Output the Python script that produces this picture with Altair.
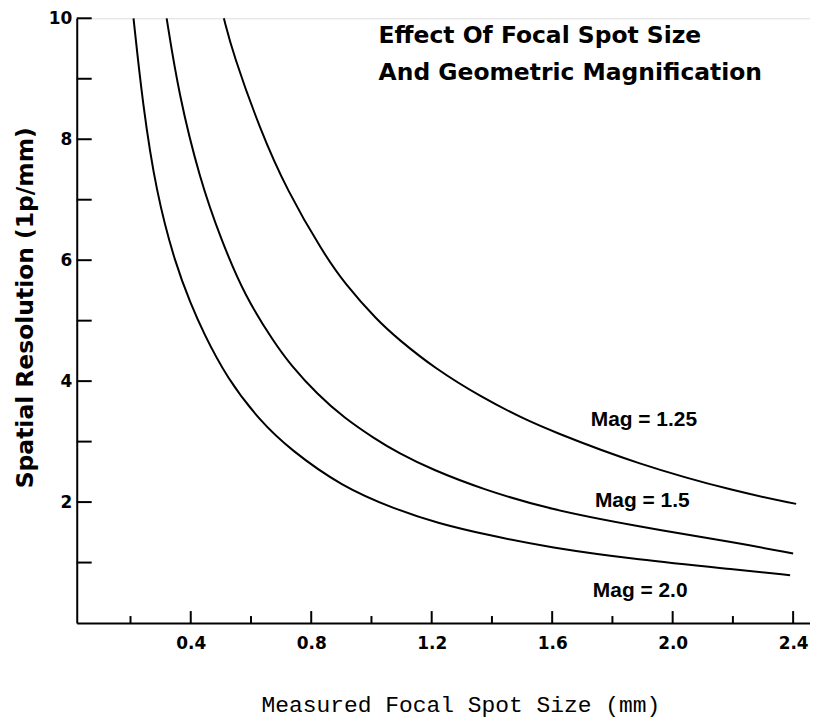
import altair as alt
import pandas as pd

# ---- data ----
mag2_x = [0.21, 0.24, 0.285, 0.35, 0.40, 0.44, 0.52, 0.63, 0.73, 0.90, 1.08, 1.22, 1.39, 1.59, 1.88, 2.22, 2.39]
mag2_y = [10.0, 8.60, 7.12, 5.92, 5.28, 4.82, 4.05, 3.34, 2.87, 2.26, 1.88, 1.65, 1.45, 1.25, 1.05, 0.88, 0.79]

mag15_x = [0.32, 0.36, 0.43, 0.50, 0.58, 0.68, 0.73, 0.82, 0.91, 1.01, 1.09, 1.20, 1.37, 1.59, 1.88, 2.22, 2.40]
mag15_y = [10.0, 8.75, 7.34, 6.35, 5.40, 4.62, 4.28, 3.78, 3.39, 3.05, 2.81, 2.54, 2.21, 1.88, 1.60, 1.32, 1.15]

mag125_x = [0.51, 0.54, 0.63, 0.72, 0.84, 0.91, 1.02, 1.09, 1.21, 1.37, 1.50, 1.59, 1.88, 2.22, 2.41]
mag125_y = [10.0, 9.42, 8.16, 7.15, 6.12, 5.62, 5.00, 4.69, 4.21, 3.72, 3.39, 3.19, 2.63, 2.16, 1.97]

series_names = ["Mag = 2.0", "Mag = 1.5", "Mag = 1.25"]

label_text = ["Mag = 1.25", "Mag = 1.5", "Mag = 2.0"]
label_x = [1.728, 1.742, 1.735]
label_y = [3.36, 2.01, 0.53]

x_major_ticks = [0.4, 0.8, 1.2, 1.6, 2.0, 2.4]
x_minor_ticks = [0.2, 0.6, 1.0, 1.4, 1.8, 2.2]
y_ticks = [1, 2, 3, 4, 5, 6, 7, 8, 9, 10]
y_label_ticks = [2, 4, 6, 8, 10]

title_lines = ["Effect Of Focal Spot Size", "And Geometric Magnification"]
x_title = "Measured Focal Spot Size (mm)"
y_title = "Spatial Resolution (1p/mm)"

# ---- build tables ----
rows = []
for name, xs, ys in zip(series_names, [mag2_x, mag15_x, mag125_x], [mag2_y, mag15_y, mag125_y]):
    for i, (a, b) in enumerate(zip(xs, ys)):
        rows.append({"series": name, "order": i, "x": a, "y": b})
curves = pd.DataFrame(rows)
labels = pd.DataFrame({"x": label_x, "y": label_y, "t": label_text})

W, H = 736, 607
xscale = alt.Scale(domain=[0.0215, 2.456], nice=False, zero=False)
yscale = alt.Scale(domain=[0, 10], nice=False)

BOLD = "DejaVu Sans"

xaxis = alt.Axis(
    values=x_major_ticks, format=".1f", ticks=False, grid=False,
    domainColor="black", domainWidth=2, labelFont=BOLD, labelFontWeight="bold",
    labelFontSize=17, labelColor="black", labelPadding=13,
    title=x_title, titleFont="Liberation Mono", titleFontWeight="normal",
    titleFontSize=23, titleColor="black", titleX=385, titleY=82,
    titleAlign="center", titleBaseline="middle", labelFlush=False,
)
yaxis = alt.Axis(
    values=y_label_ticks, format="d", ticks=False, grid=False,
    domainColor="black", domainWidth=2, labelFont=BOLD, labelFontWeight="bold",
    labelFontSize=17, labelColor="black", labelPadding=5,
    title=y_title, titleFont=BOLD, titleFontWeight="bold", titleFontSize=23.5,
    titleColor="black", titleX=-51, titleY=290, titleAngle=270,
    titleAlign="center", titleBaseline="middle", labelFlush=False,
)

X = lambda: alt.X("x:Q", scale=xscale, axis=xaxis)
Y = lambda: alt.Y("y:Q", scale=yscale, axis=yaxis)

lines = alt.Chart(curves).mark_line(
    color="black", strokeWidth=2, interpolate="basis"
).encode(x=X(), y=Y(), detail="series:N", order="order:Q")

xmaj = alt.Chart(pd.DataFrame({"x": x_major_ticks})).mark_rule(
    color="black", strokeWidth=2
).encode(x=X(), y=alt.value(H), y2=alt.value(H - 12))

xmin = alt.Chart(pd.DataFrame({"x": x_minor_ticks})).mark_rule(
    color="black", strokeWidth=2
).encode(x=X(), y=alt.value(H), y2=alt.value(H - 7))

ytk = alt.Chart(pd.DataFrame({"y": y_ticks})).mark_rule(
    color="black", strokeWidth=2
).encode(y=Y(), x=alt.value(0), x2=alt.value(15))

mags = alt.Chart(labels).mark_text(
    align="left", baseline="middle", font="Liberation Sans",
    fontWeight="bold", fontSize=21, color="black"
).encode(x=X(), y=Y(), text="t:N")

title = alt.Chart(pd.DataFrame({"a": [0]})).mark_text(
    align="left", baseline="alphabetic", font=BOLD, fontWeight="bold",
    fontSize=23.5, lineHeight=37, color="black"
).encode(x=alt.value(303), y=alt.value(25), text=alt.value(title_lines))

chart = alt.layer(lines, xmaj, xmin, ytk, mags, title).properties(
    width=W, height=H,
    autosize=alt.AutoSizeParams(type="none"),
    padding={"left": 69, "top": 9, "right": 0, "bottom": 94},
).configure_view(strokeWidth=0).configure(background="white")

chart.save("out.html", embed_options={"renderer": "svg", "actions": False})
